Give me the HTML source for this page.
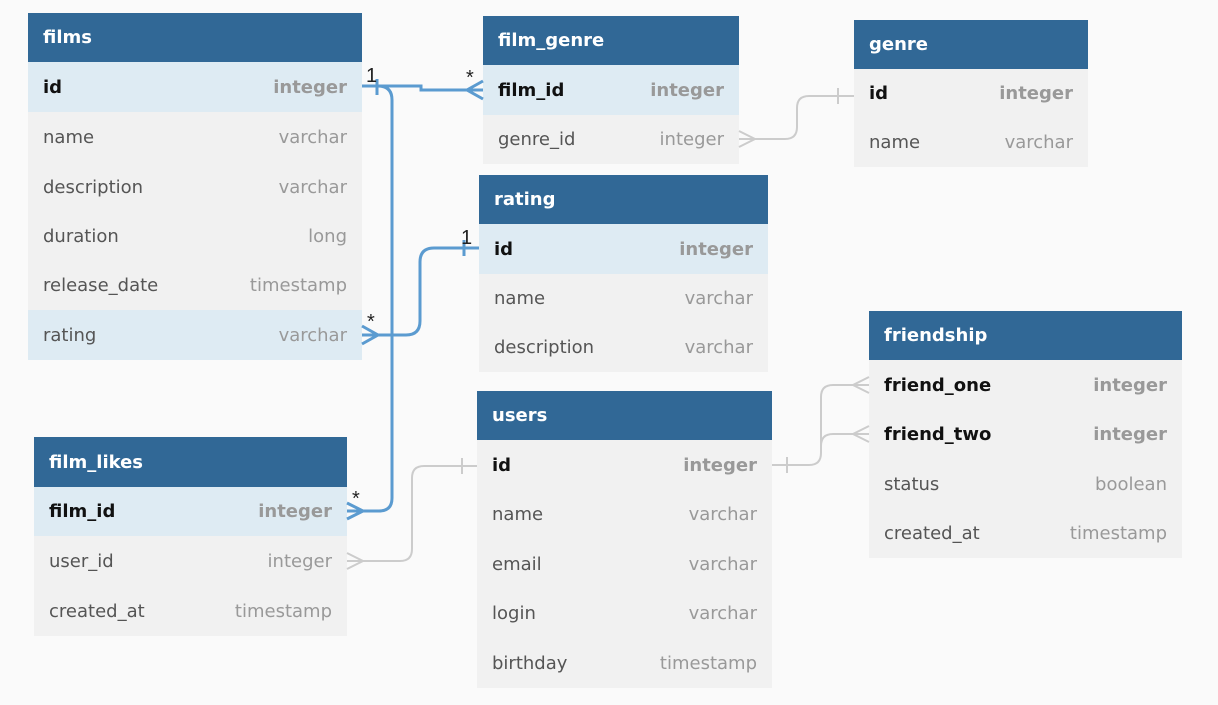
<!DOCTYPE html>
<html><head><meta charset="utf-8"><style>
body{margin:0;width:1218px;height:705px;background:#fafafa;position:relative;overflow:hidden;font-family:"DejaVu Sans","Liberation Sans",sans-serif}
.t{position:absolute}
.h{background:#316896;color:#fff;font-weight:bold;font-size:18px;padding-left:15px;box-sizing:border-box;display:flex;align-items:center}
.r{background:#f1f1f1;font-size:18px;color:#555;display:flex;justify-content:space-between;align-items:center;padding:0 15px;box-sizing:border-box}
.r span:last-child{color:#999}
.r.k{background:#deebf3;color:#111;font-weight:bold}
.r.b{font-weight:bold;color:#111}
svg{position:absolute;left:0;top:0}
</style></head><body>

<div class="t" style="left:28px;top:13px;width:334px">
<div class="h" style="height:49px">films</div>
<div class="r k" style="height:50px"><span>id</span><span>integer</span></div>
<div class="r" style="height:50px"><span>name</span><span>varchar</span></div>
<div class="r" style="height:50px"><span>description</span><span>varchar</span></div>
<div class="r" style="height:49px"><span>duration</span><span>long</span></div>
<div class="r" style="height:49px"><span>release_date</span><span>timestamp</span></div>
<div class="r k" style="height:50px;font-weight:normal;color:#555"><span>rating</span><span>varchar</span></div>
</div>

<div class="t" style="left:483px;top:16px;width:256px">
<div class="h" style="height:49px">film_genre</div>
<div class="r k" style="height:50px"><span>film_id</span><span>integer</span></div>
<div class="r" style="height:49px"><span>genre_id</span><span>integer</span></div>
</div>

<div class="t" style="left:854px;top:20px;width:234px">
<div class="h" style="height:49px">genre</div>
<div class="r k" style="height:49px;background:#f1f1f1"><span>id</span><span>integer</span></div>
<div class="r" style="height:49px"><span>name</span><span>varchar</span></div>
</div>

<div class="t" style="left:479px;top:175px;width:289px">
<div class="h" style="height:49px">rating</div>
<div class="r k" style="height:50px"><span>id</span><span>integer</span></div>
<div class="r" style="height:49px"><span>name</span><span>varchar</span></div>
<div class="r" style="height:49px"><span>description</span><span>varchar</span></div>
</div>

<div class="t" style="left:869px;top:311px;width:313px">
<div class="h" style="height:49px">friendship</div>
<div class="r b" style="height:50px"><span>friend_one</span><span>integer</span></div>
<div class="r b" style="height:49px"><span>friend_two</span><span>integer</span></div>
<div class="r" style="height:50px"><span>status</span><span>boolean</span></div>
<div class="r" style="height:49px"><span>created_at</span><span>timestamp</span></div>
</div>

<div class="t" style="left:477px;top:391px;width:295px">
<div class="h" style="height:49px">users</div>
<div class="r b" style="height:50px"><span>id</span><span>integer</span></div>
<div class="r" style="height:49px"><span>name</span><span>varchar</span></div>
<div class="r" style="height:50px"><span>email</span><span>varchar</span></div>
<div class="r" style="height:49px"><span>login</span><span>varchar</span></div>
<div class="r" style="height:50px"><span>birthday</span><span>timestamp</span></div>
</div>

<div class="t" style="left:34px;top:437px;width:313px">
<div class="h" style="height:50px">film_likes</div>
<div class="r k" style="height:49px"><span>film_id</span><span>integer</span></div>
<div class="r" style="height:50px"><span>user_id</span><span>integer</span></div>
<div class="r" style="height:50px"><span>created_at</span><span>timestamp</span></div>
</div>

<svg width="1218" height="705" fill="none">
<g stroke="#ccc" stroke-width="2">
<path d="M739 139 H785 Q797 139 797 127 V108 Q797 96 809 96 H854"/>
<path d="M838 88 V104"/><path d="M739 131 L755 139 L739 147"/>
<path d="M347 561 H400 Q412 561 412 549 V478 Q412 466 424 466 H477"/>
<path d="M462 458 V474"/><path d="M347 553 L363 561 L347 569"/>
<path d="M772 465 H809 Q821 465 821 453 V397 Q821 385 833 385 H869"/>
<path d="M821 446 Q821 434 833 434 H869"/>
<path d="M787 457 V473"/>
<path d="M869 377 L853 385 L869 393"/><path d="M869 426 L853 434 L869 442"/>
</g>
<g stroke="#5b9bd0" stroke-width="3">
<path d="M362 86 H421 V90 H483"/>
<path d="M377 79 V95"/><path d="M483 81 L467 90 L483 99"/>
<path d="M378 86 Q392 86 392 100 V498 Q392 511 379 511 H347"/>
<path d="M347 503 L363 511 L347 519"/>
<path d="M362 335 H406 Q420 335 420 321 V262 Q420 248 434 248 H479"/>
<path d="M464 240 V256"/><path d="M362 326 L378 335 L362 344"/>
</g>
<g fill="#222" font-family="Liberation Sans,sans-serif" font-size="20">
<text x="366" y="82">1</text><text x="466" y="84">*</text>
<text x="461" y="244">1</text><text x="367" y="328">*</text>
<text x="352" y="505">*</text>
</g>
</svg>
</body></html>
